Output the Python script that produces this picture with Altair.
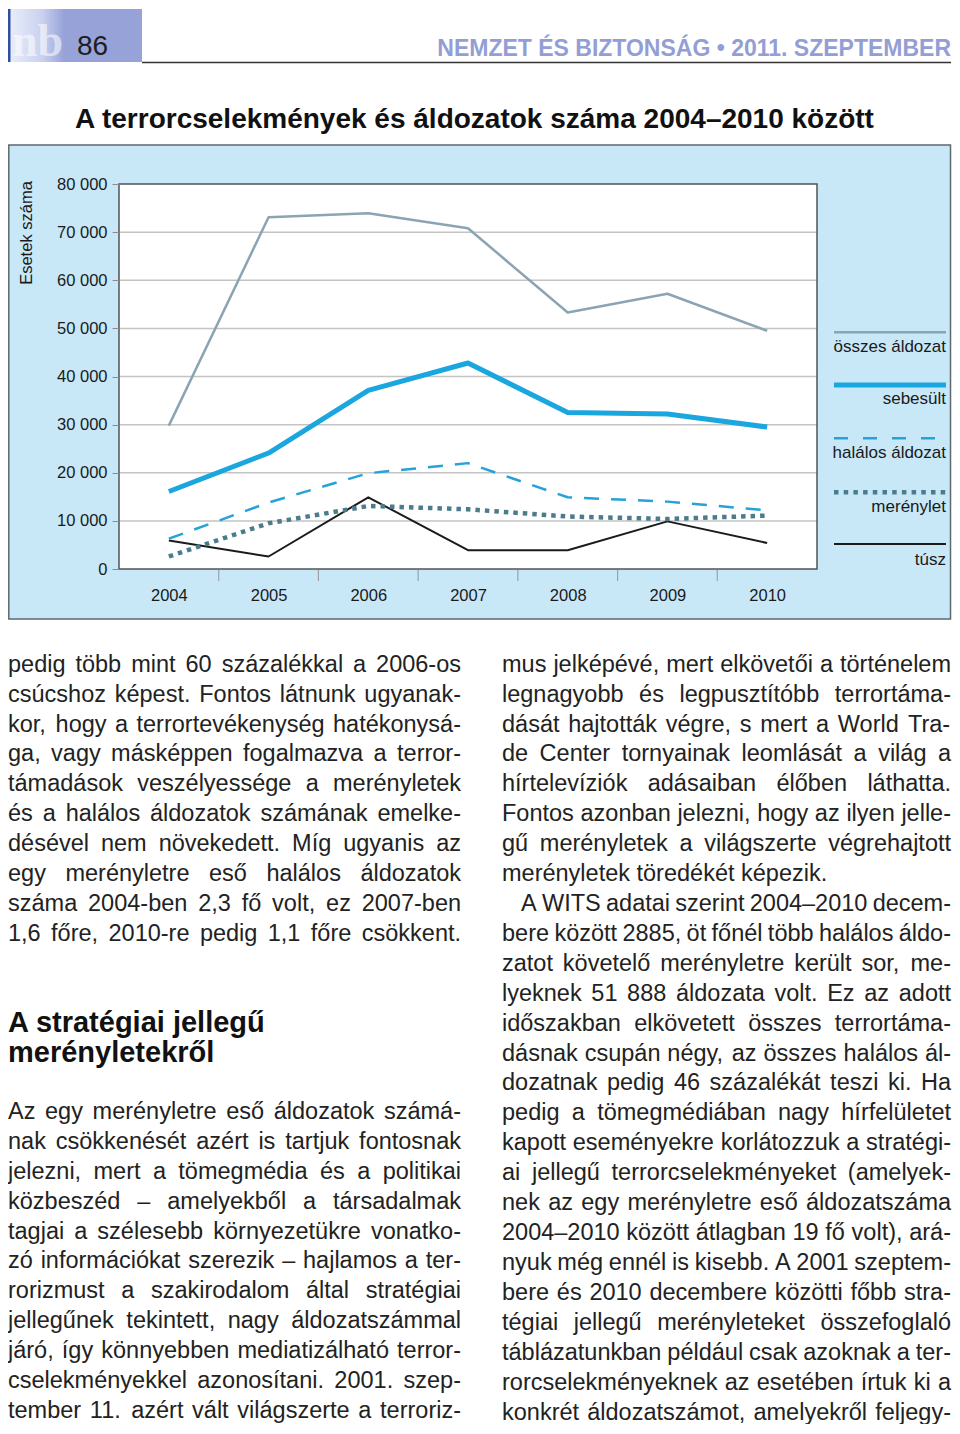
import altair as alt
import pandas as pd

# ---------------- data ----------------
years = [2004, 2005, 2006, 2007, 2008, 2009, 2010]
osszes_aldozat = [29800, 73100, 73900, 70800, 53300, 57200, 49500]
sebesult = [16100, 24100, 37100, 42800, 32500, 32200, 29500]
halalos_aldozat = [6300, 13800, 19900, 22000, 14900, 14000, 12200]
merenylet = [2600, 9500, 13100, 12400, 10900, 10400, 11100]
tusz = [5900, 2600, 14900, 3900, 3900, 9900, 5400]

series_names = ["összes áldozat", "sebesült", "halálos áldozat", "merénylet", "túsz"]
series_values = [osszes_aldozat, sebesult, halalos_aldozat, merenylet, tusz]
y_ticks = [0, 10000, 20000, 30000, 40000, 50000, 60000, 70000, 80000]
grid_values = [10000, 20000, 30000, 40000, 50000, 60000, 70000]
band_edges = [2004.5, 2005.5, 2006.5, 2007.5, 2008.5, 2009.5]

y_title = "Esetek száma"
chart_title = "A terrorcselekmények és áldozatok száma 2004–2010 között"
journal = "NEMZET ÉS BIZTONSÁG • 2011. SZEPTEMBER"
page_no = "86"
logo = "nb"

left_para1 = [
    "pedig több mint 60 százalékkal a 2006-os",
    "csúcshoz képest. Fontos látnunk ugyanak-",
    "kor, hogy a terrortevékenység hatékonysá-",
    "ga, vagy másképpen fogalmazva a terror-",
    "támadások veszélyessége a merényletek",
    "és a halálos áldozatok számának emelke-",
    "désével nem növekedett. Míg ugyanis az",
    "egy merényletre eső halálos áldozatok",
    "száma 2004-ben 2,3 fő volt, ez 2007-ben",
    "1,6 főre, 2010-re pedig 1,1 főre csökkent.",
]
heading = ["A stratégiai jellegű", "merényletekről"]
left_para2 = [
    "Az egy merényletre eső áldozatok számá-",
    "nak csökkenését azért is tartjuk fontosnak",
    "jelezni, mert a tömegmédia és a politikai",
    "közbeszéd – amelyekből a társadalmak",
    "tagjai a szélesebb környezetükre vonatko-",
    "zó információkat szerezik – hajlamos a ter-",
    "rorizmust a szakirodalom által stratégiai",
    "jellegűnek tekintett, nagy áldozatszámmal",
    "járó, így könnyebben mediatizálható terror-",
    "cselekményekkel azonosítani. 2001. szep-",
    "tember 11. azért vált világszerte a terroriz-",
]
right_col = [
    "mus jelképévé, mert elkövetői a történelem",
    "legnagyobb és legpusztítóbb terrortáma-",
    "dását hajtották végre, s mert a World Tra-",
    "de Center tornyainak leomlását a világ a",
    "hírtelevíziók adásaiban élőben láthatta.",
    "Fontos azonban jelezni, hogy az ilyen jelle-",
    "gű merényletek a világszerte végrehajtott",
    "merényletek töredékét képezik.",
    "A WITS adatai szerint 2004–2010 decem-",
    "bere között 2885, öt főnél több halálos áldo-",
    "zatot követelő merényletre került sor, me-",
    "lyeknek 51 888 áldozata volt. Ez az adott",
    "időszakban elkövetett összes terrortáma-",
    "dásnak csupán négy, az összes halálos ál-",
    "dozatnak pedig 46 százalékát teszi ki. Ha",
    "pedig a tömegmédiában nagy hírfelületet",
    "kapott eseményekre korlátozzuk a stratégi-",
    "ai jellegű terrorcselekményeket (amelyek-",
    "nek az egy merényletre eső áldozatszáma",
    "2004–2010 között átlagban 19 fő volt), ará-",
    "nyuk még ennél is kisebb. A 2001 szeptem-",
    "bere és 2010 decembere közötti főbb stra-",
    "tégiai jellegű merényleteket összefoglaló",
    "táblázatunkban például csak azoknak a ter-",
    "rorcselekményeknek az esetében írtuk ki a",
    "konkrét áldozatszámot, amelyekről feljegy-",
]

# ---------------- geometry (page pixels) ----------------
SVG_LEFT, SVG_TOP = 8, 8    # where the svg lands on the page
SVG_W, SVG_H = 944, 1416
RIGHT = SVG_LEFT + SVG_W - 1  # right-most usable page x
PX0, PY0 = 119, 184         # page position of the plot area's top-left
PW, PH = 698, 385           # plot area size
FONT = "Liberation Sans"


def cx(px):
    return px - PX0


def cy(py):
    return py - PY0


# Arial / Liberation Sans advance widths (1/1000 em)
W = {" ": 278, ",": 278, ".": 278, "-": 333, "–": 556, "(": 333, ")": 333, ":": 278,
     "a": 556, "b": 556, "c": 500, "d": 556, "e": 556, "f": 278, "g": 556, "h": 556,
     "i": 222, "j": 222, "k": 500, "l": 222, "m": 833, "n": 556, "o": 556, "p": 556,
     "q": 556, "r": 333, "s": 500, "t": 278, "u": 556, "v": 500, "w": 722, "x": 500,
     "y": 500, "z": 500, "á": 556, "é": 556, "í": 278, "ó": 556, "ö": 556, "ő": 556,
     "ú": 556, "ü": 556, "ű": 556,
     "A": 667, "B": 667, "C": 722, "D": 722, "E": 667, "F": 611, "G": 778, "H": 722,
     "I": 278, "J": 500, "K": 667, "L": 556, "M": 833, "N": 722, "O": 778, "P": 667,
     "R": 722, "S": 667, "T": 611, "U": 722, "V": 667, "W": 944, "Z": 611}


def tw(s, size):
    return sum(W.get(ch, 556) for ch in s) / 1000.0 * size


BODY = 23.5
B0 = 671.7                       # first body baseline
LH = (1419.5 - B0) / 25          # body line spacing


def layout(lines, x0, y0, width, ragged=(), indents=None):
    indents = indents or {}
    out = []
    for i, line in enumerate(lines):
        words = line.split(" ")
        ind = indents.get(i, 0)
        ws = [tw(w, BODY) for w in words]
        if i in ragged or len(words) == 1:
            gap = tw(" ", BODY)
        else:
            gap = (width - ind - sum(ws)) / (len(words) - 1)
        x = x0 + ind
        for w, wd in zip(words, ws):
            out.append({"px": cx(x), "py": cy(y0 + i * LH), "t": w})
            x += wd + gap
    return out


body_rows = []
body_rows += layout(left_para1, 8, B0, 453)
body_rows += layout(left_para2, 8, B0 + 14.95 * LH, 453)
body_rows += layout(right_col, 502, B0, RIGHT - 502, ragged={7}, indents={8: 19})

dummy = pd.DataFrame({"k": [0]})


def vrect(x1, y1, x2, y2, **kw):
    return alt.Chart(dummy).mark_rect(**kw).encode(
        x=alt.value(cx(x1)), x2=alt.value(cx(x2)),
        y=alt.value(cy(y1)), y2=alt.value(cy(y2)))


def hrule(x1, x2, y, **kw):
    return alt.Chart(dummy).mark_rule(**kw).encode(
        x=alt.value(cx(x1)), x2=alt.value(cx(x2)), y=alt.value(cy(y)))


def texts(rows, **kw):
    return alt.Chart(pd.DataFrame(rows)).mark_text(**kw).encode(
        x=alt.X("px:Q", scale=None, axis=None),
        y=alt.Y("py:Q", scale=None, axis=None),
        text="t:N")


# ---------------- scales / axes ----------------
x_enc = alt.X(
    "year:Q",
    scale=alt.Scale(domain=[2003.5, 2010.5], nice=False, zero=False),
    axis=alt.Axis(values=years, format="d", ticks=False, domain=False, grid=False,
                  labelPadding=18, labelFontSize=16.5, labelColor="#1a1a1a",
                  labelFont=FONT, title=None, zindex=1, labelFlush=False,
                  labelOverlap=False))
y_enc = alt.Y(
    "value:Q",
    scale=alt.Scale(domain=[0, 80000], nice=False),
    axis=alt.Axis(values=y_ticks, labelExpr="replace(format(datum.value, ','), ',', ' ')",
                  ticks=True, tickSize=7, tickColor="#8c8c8c", tickWidth=1,
                  domain=False, grid=False, labelPadding=5, labelFontSize=16.5,
                  labelColor="#1a1a1a", labelFont=FONT, title=None, zindex=1))

rows = []
for name, vals in zip(series_names, series_values):
    for yr, v in zip(years, vals):
        rows.append({"series": name, "year": yr, "value": v})
lines_df = pd.DataFrame(rows)

styles = {
    "összes áldozat": dict(color="#8ba4b3", strokeWidth=2.5),
    "sebesült": dict(color="#1aa6df", strokeWidth=5),
    "halálos áldozat": dict(color="#25a2d8", strokeWidth=2.5, strokeDash=[15, 12]),
    "merénylet": dict(color="#4b7c8b", strokeWidth=4.5, strokeDash=[4.5, 5]),
    "túsz": dict(color="#1b1b1b", strokeWidth=2),
}

layers = []
# panel background
layers.append(vrect(8.8, 145, RIGHT - 0.5, 619, fill="#c8e8f8", stroke="#5d6870", strokeWidth=1.5))
# header logo
layers.append(vrect(8, 9, 142, 62, fill="#97a3d8"))
layers.append(vrect(10, 9, 64, 62, fill=alt.Gradient(
    gradient="linear", x1=0, x2=1, y1=0, y2=0,
    stops=[alt.GradientStop(color="#e9edf9", offset=0),
           alt.GradientStop(color="#c9d1ef", offset=0.6),
           alt.GradientStop(color="#97a3d8", offset=1)])))
layers.append(vrect(8, 9, 10.5, 62, fill="#2f4fa5"))
layers.append(hrule(142, RIGHT, 62.5, color="#333333", strokeWidth=1.5))
# plot area
layers.append(vrect(PX0, PY0, PX0 + PW, PY0 + PH, fill="white"))
layers.append(alt.Chart(pd.DataFrame({"value": grid_values})).mark_rule(
    color="#c4c4c4", strokeWidth=1.5).encode(y=y_enc, x=alt.value(0), x2=alt.value(PW)))
layers.append(vrect(PX0, PY0, PX0 + PW, PY0 + PH, fillOpacity=0, stroke="#4f5458", strokeWidth=1.5))
layers.append(alt.Chart(pd.DataFrame({"year": band_edges})).mark_rule(
    color="#9aa2a8", strokeWidth=1.2).encode(x=x_enc, y=alt.value(PH + 1), y2=alt.value(PH + 12)))
# data lines
for name in ["összes áldozat", "túsz", "merénylet", "halálos áldozat", "sebesült"]:
    layers.append(alt.Chart(lines_df).transform_filter(alt.datum.series == name)
                  .mark_line(strokeCap="butt", strokeJoin="round", **styles[name])
                  .encode(x=x_enc, y=y_enc))
# manual legend
leg_line_y = [332.3, 385, 438.3, 492.3, 544]
leg_text_y = [352.3, 404, 458, 511.7, 565]
leg_dash = {"halálos áldozat": [14, 15], "merénylet": [4.5, 5.2]}
for name, ly in zip(series_names, leg_line_y):
    st = dict(styles[name])
    st.pop("strokeDash", None)
    if name in leg_dash:
        st["strokeDash"] = leg_dash[name]
    layers.append(hrule(834, 946, ly, strokeCap="butt", **st))
layers.append(texts([{"px": cx(946), "py": cy(yy), "t": n} for n, yy in zip(series_names, leg_text_y)],
                    align="right", baseline="alphabetic", font=FONT, fontSize=17, color="#1a1a1a"))
# y title
layers.append(texts([{"px": cx(27), "py": cy(233), "t": y_title}], angle=270, align="center",
                    baseline="middle", font=FONT, fontSize=16.5, color="#1a1a1a"))
# header texts
layers.append(texts([{"px": cx(12), "py": cy(56), "t": logo}], align="left", baseline="alphabetic",
                    font="Liberation Sans Narrow", fontWeight="bold", fontSize=46,
                    color="#ffffff", opacity=0.55))
layers.append(texts([{"px": cx(77), "py": cy(55), "t": page_no}], align="left", baseline="alphabetic",
                    font=FONT, fontSize=28, color="#1e1e1e"))
layers.append(texts([{"px": cx(RIGHT), "py": cy(56), "t": journal}], align="right", baseline="alphabetic",
                    font=FONT, fontWeight="bold", fontSize=23, color="#939ed5"))
layers.append(texts([{"px": cx(75), "py": cy(128), "t": chart_title}], align="left", baseline="alphabetic",
                    font=FONT, fontWeight="bold", fontSize=28, color="#111111"))
# heading in text
layers.append(texts([{"px": cx(8), "py": cy(1032), "t": heading[0]},
                     {"px": cx(8), "py": cy(1062), "t": heading[1]}],
                    align="left", baseline="alphabetic", font=FONT, fontWeight="bold",
                    fontSize=29, color="#111111"))
# body text
layers.append(texts(body_rows, align="left", baseline="alphabetic", font=FONT,
                    fontSize=BODY, color="#222222"))

chart = alt.layer(*layers).properties(
    width=PW, height=PH,
    autosize=alt.AutoSizeParams(type="none"),
    padding={"left": PX0 - SVG_LEFT, "top": PY0 - SVG_TOP,
             "right": SVG_W - (PX0 - SVG_LEFT) - PW,
             "bottom": SVG_H - (PY0 - SVG_TOP) - PH},
    background="white",
).configure_view(strokeOpacity=0)

chart.save("out.html", embed_options={"renderer": "svg", "actions": False})
